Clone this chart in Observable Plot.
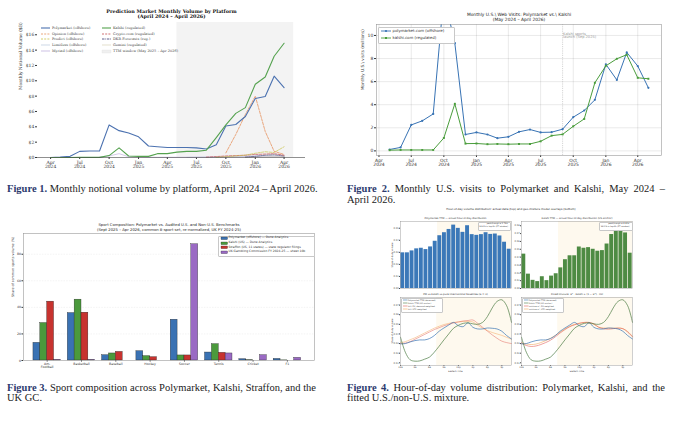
<!DOCTYPE html>
<html><head><meta charset="utf-8">
<script src="https://cdn.jsdelivr.net/npm/d3@7"></script>
<script src="https://cdn.jsdelivr.net/npm/@observablehq/plot@0.6"></script>
<style>
html,body{margin:0;padding:0;background:#fff;}
#page{position:relative;width:680px;height:421px;overflow:hidden;background:#fff;}
.cap{position:absolute;font-family:"Liberation Serif",serif;font-size:10.5px;line-height:11px;color:#1a1a1a;white-space:nowrap;}
.cap b{color:#2c3a6e;}
.just{white-space:normal;text-align:justify;text-align-last:justify;}
.box{position:absolute;background:#fff;border:0.4px solid #c8c8c8;border-radius:1px;}
</style></head>
<body><div id="page"></div>
<script>
// ---------------- Figure 1 data ----------------
const volMonths = ["2024-04","2024-05","2024-06","2024-07","2024-08","2024-09","2024-10","2024-11","2024-12","2025-01","2025-02","2025-03","2025-04","2025-05","2025-06","2025-07","2025-08","2025-09","2025-10","2025-11","2025-12","2026-01","2026-02","2026-03","2026-04"];
const polyVol      = [0.0,0.05,0.15,0.8,0.85,0.85,4.25,3.5,3.2,2.7,1.5,1.4,1.3,1.3,1.3,1.25,1.1,1.65,4.1,4.3,5.35,7.7,7.95,10.6,9.1];
const kalshiVol    = [0.0,0.0,0.0,0.02,0.02,0.02,0.25,1.25,0.2,0.15,0.15,0.5,0.5,0.7,0.8,0.8,0.95,2.6,4.25,5.75,6.5,9.55,10.5,13.2,14.9];
const opinionVol   = [null,null,null,null,null,null,null,null,null,null,null,null,null,null,null,null,null,null,0.6,3.0,5.6,8.0,3.4,0.8,0.4];
const predictVol   = [null,null,null,null,null,null,null,null,null,null,null,null,null,null,null,null,null,0.02,0.1,0.2,0.3,0.55,0.75,0.65,1.4];
const cryptoVol    = [null,null,null,null,null,null,null,null,null,null,null,null,null,null,null,null,0.05,0.12,0.2,0.25,0.3,0.4,0.45,0.5,0.3];
const dkrVol       = [null,null,null,null,null,null,null,null,null,null,null,null,null,null,null,null,null,null,null,null,0.05,0.15,0.3,0.35,0.2];
const limitlessVol = [null,null,null,null,null,null,null,null,null,null,null,null,null,null,0.02,0.03,0.05,0.08,0.12,0.15,0.18,0.2,0.22,0.2,0.15];
const myriadVol    = [null,null,null,null,null,0.05,0.2,0.5,0.1,0.05,0.03,0.03,0.03,0.03,0.03,0.04,0.04,0.05,0.06,0.07,0.08,0.1,0.1,0.1,0.08];
const geminiVol    = [null,null,null,null,null,null,null,null,null,null,null,null,null,null,null,null,null,null,null,null,0.02,0.05,0.08,0.1,0.12];
const volTicks = [0,2,4,6,8,10,12,14,16];
const quarterTicks = ["2024-04","2024-07","2024-10","2025-01","2025-04","2025-07","2025-10","2026-01","2026-04"];
const ttmWindow = {start: "2025-05", end: "2026-05"};

// ---------------- Figure 2 data ----------------
const visitMonths = ["2024-05","2024-06","2024-07","2024-08","2024-09","2024-10","2024-11","2024-12","2025-01","2025-02","2025-03","2025-04","2025-05","2025-06","2025-07","2025-08","2025-09","2025-10","2025-11","2025-12","2026-01","2026-02","2026-03","2026-04","2026-05"];
const polyVisits   = [0.12,0.3,2.25,2.6,3.2,13.5,9.33,1.42,1.6,1.42,1.1,1.22,1.65,1.85,1.6,1.62,1.88,2.92,3.5,4.42,7.5,6.15,8.53,7.35,5.46];
const kalshiVisits = [0.06,0.08,0.08,0.08,0.08,1.12,4.08,0.63,0.64,0.58,0.6,0.58,0.6,0.6,0.83,1.32,1.43,2.13,2.77,5.9,7.37,7.98,8.33,6.33,6.25];
const visitTicks = [0,2,4,6,8,10];
const sportsLaunch = {date: "2025-09", note: "Kalshi sports\nlaunch (Sep 2025)"};

// ---------------- Figure 3 data ----------------
const sports = ["Am.\nFootball","Basketball","Baseball","Hockey","Soccer","Tennis","Cricket","F1"];
const sources3 = ["Polymarket (offshore) — Dune Analytics","Kalshi (US) — Dune Analytics","Straffon (US, 11 states) — state regulator filings","UK Gambling Commission FY 2024-25 — sheet 10b"];
const pmShare       = [13.3,35.7,4.0,7.0,30.7,6.0,1.0,1.2];
const kalshiShare   = [28.2,45.8,5.3,3.3,3.8,12.3,0.2,0.1];
const straffonShare = [44.3,36.0,6.5,2.5,3.8,5.8,0,0];
const ukShare       = [0.5,0.5,0,0,87.5,5.3,4.0,2.0];
const shareTicks = [0,20,40,60,80];

// ---------------- Figure 4 data ----------------
const hours = [0,1,2,3,4,5,6,7,8,9,10,11,12,13,14,15,16,17,18,19,20,21,22,23];
const pmHourShare     = [0.0296,0.0296,0.0312,0.0329,0.0334,0.0323,0.0345,0.0392,0.0438,0.0463,0.0490,0.0526,0.0499,0.0466,0.0521,0.0447,0.0441,0.0447,0.0463,0.0449,0.0452,0.0436,0.0384,0.0326];
const kalshiHourShare = [0.0438,0.0183,0.0104,0.0088,0.0150,0.0100,0.0158,0.0188,0.0263,0.0367,0.0417,0.0417,0.0529,0.0513,0.0521,0.0500,0.0475,0.0483,0.0567,0.0688,0.0729,0.0733,0.0708,0.0450];
const pmSmooth     = [0.0297,0.0300,0.0317,0.0331,0.0338,0.0338,0.0352,0.0383,0.0428,0.0462,0.0493,0.0520,0.0486,0.0476,0.0517,0.0469,0.0452,0.0452,0.0462,0.0459,0.0452,0.0428,0.0383,0.0348];
const kalshiSmooth = [0.0366,0.0210,0.0131,0.0117,0.0120,0.0138,0.0159,0.0210,0.0272,0.0338,0.0400,0.0460,0.0490,0.0510,0.0515,0.0505,0.0500,0.0520,0.0580,0.0670,0.0738,0.0755,0.0693,0.0520];
const intlEU       = [0.0300,0.0305,0.0320,0.0345,0.0370,0.0395,0.0420,0.0445,0.0465,0.0485,0.0500,0.0515,0.0525,0.0535,0.0540,0.0545,0.0510,0.0470,0.0430,0.0390,0.0355,0.0325,0.0310,0.0300];
const intlUTC      = [0.0310,0.0320,0.0340,0.0360,0.0385,0.0410,0.0435,0.0460,0.0480,0.0498,0.0510,0.0520,0.0525,0.0530,0.0530,0.0525,0.0490,0.0460,0.0435,0.0415,0.0400,0.0385,0.0365,0.0345];
const mixEU        = [0.0305,0.0280,0.0270,0.0275,0.0290,0.0310,0.0335,0.0370,0.0410,0.0445,0.0475,0.0495,0.0510,0.0520,0.0520,0.0505,0.0470,0.0455,0.0450,0.0455,0.0460,0.0455,0.0420,0.0370];
const mixUTC       = [0.0310,0.0295,0.0290,0.0295,0.0310,0.0330,0.0355,0.0385,0.0420,0.0452,0.0480,0.0500,0.0512,0.0518,0.0515,0.0500,0.0470,0.0462,0.0460,0.0460,0.0462,0.0455,0.0425,0.0375];
const hourTicks = [0,3,6,9,12,15,18,21];
const hourLabels = ["12a","3a","6a","9a","12p","3p","6p","9p"];
const usWindowBars = [[8,24]];
const usWindowLines = [[7.5,23]];

// ---------------- helpers ----------------
const page = document.getElementById("page");
const parseM = d3.utcParse("%Y-%m");
const fmtMY = d => d3.utcFormat("%b")(d) + "\n" + d3.utcFormat("%Y")(d);
function put(el, x, y){ el.style.position="absolute"; el.style.left=x+"px"; el.style.top=y+"px"; el.style.overflow="visible"; page.appendChild(el); return el; }
function txt(s, x, y, o = {}){
  const d = document.createElement("div");
  d.textContent = s;
  const a = o.anchor || "start";
  const tx = a === "start" ? "0" : a === "middle" ? "-50%" : "-100%";
  Object.assign(d.style, {position:"absolute", left:x+"px", top:y+"px", fontFamily:o.family||"DejaVu Sans",
    fontSize:(o.size||4)+"px", fontWeight:o.weight||"normal", color:o.color||"#333", whiteSpace:"pre",
    lineHeight:String(o.lh||1.2), textAlign:o.align||"left",
    transform:`translate(${tx},-50%)` + (o.rotate ? ` rotate(${o.rotate}deg)` : ""), transformOrigin:"center"});
  page.appendChild(d); return d;
}
function box(x, y, w, h){ const d=document.createElement("div"); d.className="box"; Object.assign(d.style,{left:x+"px",top:y+"px",width:w+"px",height:h+"px"}); page.appendChild(d); }
const NS = "http://www.w3.org/2000/svg";
function lineSwatch(x, y, w, color, dash, sw, marker){
  const s = document.createElementNS(NS,"svg");
  s.setAttribute("width", w); s.setAttribute("height", 4);
  s.innerHTML = `<line x1="0" y1="2" x2="${w}" y2="2" stroke="${color}" stroke-width="${sw}" ${dash?`stroke-dasharray="${dash}"`:""}/>` +
    (marker==="circle" ? `<circle cx="${w/2}" cy="2" r="1.1" fill="${color}"/>` : marker==="square" ? `<rect x="${w/2-1}" y="1" width="2" height="2" fill="${color}"/>` : "");
  put(s, x, y-2);
}
function patch(x, y, w, h, fill, stroke, sw){
  const s = document.createElementNS(NS,"svg");
  s.setAttribute("width", w); s.setAttribute("height", h);
  s.innerHTML = `<rect x="0" y="0" width="${w}" height="${h}" fill="${fill}" stroke="${stroke}" stroke-width="${sw}"/>`;
  put(s, x, y-h/2);
}

// ================= Figure 1 =================
const defs1 = [
  {name:"Limitless (offshore)", values:limitlessVol, color:"#b7c7db", w:0.6},
  {name:"Myriad (offshore)", values:myriadVol, color:"#b8a6d8", w:0.6},
  {name:"Gemini (regulated)", values:geminiVol, color:"#d8d2b8", w:0.6},
  {name:"DKR Forecasts (reg.)", values:dkrVol, color:"#35356e", w:0.6, dash:"3,1,1,1"},
  {name:"Crypto.com (regulated)", values:cryptoVol, color:"#c44e52", w:0.7, dash:"2.5,1.3"},
  {name:"Predict (offshore)", values:predictVol, color:"#c9c24a", w:0.7, dash:"2.5,1.3"},
  {name:"Opinion (offshore)", values:opinionVol, color:"#e6925e", w:0.8, dash:"2.5,1.3"},
  {name:"Polymarket (offshore)", values:polyVol, color:"#4c72b0", w:1.1},
  {name:"Kalshi (regulated)", values:kalshiVol, color:"#55a24f", w:1.1}
];
const lineMarks1 = defs1.map(d => Plot.line(
  volMonths.map((m,i) => ({date: parseM(m), v: d.values[i]})).filter(r => r.v != null),
  {x:"date", y:"v", stroke:d.color, strokeWidth:d.w, strokeDasharray:d.dash}));
const fig1 = Plot.plot({
  width:315, height:178, marginLeft:37, marginRight:10, marginTop:22, marginBottom:21,
  style:{fontFamily:"DejaVu Serif, serif", fontSize:"4.5px", color:"#333", background:"transparent", overflow:"visible"},
  x:{type:"utc", domain:[new Date("2024-02-20"), new Date("2026-06-07")], ticks:quarterTicks.map(parseM), tickFormat:fmtMY, tickSize:2, tickPadding:1.2, label:null},
  y:{domain:[0,17.6], ticks:volTicks, tickFormat:d => "$"+d, tickSize:2, tickPadding:1.2, label:null},
  marks:[
    Plot.rect([ttmWindow], {x1:d => parseM(d.start), x2:d => parseM(d.end), fill:"#f3f3f3"}),
    ...lineMarks1,
    Plot.ruleY([0], {stroke:"#444", strokeWidth:0.6}),
    Plot.text(["Monthly Notional Volume ($B)"], {frameAnchor:"left", rotate:-90, dx:-17, fontSize:4.4}),
    Plot.text(["Prediction Market Monthly Volume by Platform\n(April 2024 – April 2026)"], {frameAnchor:"top", lineAnchor:"top", dy:-13, fontWeight:"bold", fontSize:4.9, fill:"#111"})
  ]
});
put(fig1, 0, 0);
// legend fig 1
const leg1 = [
  ["Polymarket (offshore)","#4c72b0",null,1.1, 0,0],["Opinion (offshore)","#e6925e","2,1.2",0.8,0,1],["Predict (offshore)","#c9c24a","2,1.2",0.8,0,2],
  ["Limitless (offshore)","#b7c7db",null,0.7,0,3],["Myriad (offshore)","#b8a6d8",null,0.7,0,4],
  ["Kalshi (regulated)","#55a24f",null,1.1,1,0],["Crypto.com (regulated)","#c44e52","2,1.2",0.8,1,1],["DKR Forecasts (reg.)","#35356e","2.5,0.8,0.8,0.8",0.8,1,2],
  ["Gemini (regulated)","#d8d2b8",null,0.7,1,3]
];
const rows1 = [28, 33.7, 39.3, 45.2, 51];
leg1.forEach(([t,c,dash,w,col,row]) => {
  const x0 = col ? 102 : 41;
  lineSwatch(x0, rows1[row], 9, c, dash, w);
  txt(t, x0+11, rows1[row], {family:"DejaVu Serif", size:3.5, color:"#444"});
});
patch(102, rows1[4], 9, 3, "#f0f0f0", "#dcdcdc", 0.3);
txt("TTM window (May 2025 – Apr 2026)", 113, rows1[4], {family:"DejaVu Serif", size:3.5, color:"#444"});

// ================= Figure 2 =================
const polyRows = visitMonths.map((m,i) => ({date:parseM(m), v:polyVisits[i]}));
const kalRows = visitMonths.map((m,i) => ({date:parseM(m), v:kalshiVisits[i]}));
const blue2 = "#3873b4", green2 = "#4a9d3c";
const fig2 = Plot.plot({
  width:340, height:178, marginLeft:36, marginRight:19, marginTop:24, marginBottom:23,
  style:{fontFamily:"DejaVu Sans, sans-serif", fontSize:"4.5px", color:"#333", background:"transparent", overflow:"visible"},
  x:{type:"utc", domain:[new Date("2024-03-25"), new Date("2026-06-07")], ticks:quarterTicks.map(parseM), tickFormat:fmtMY, tickSize:2, tickPadding:1.2, label:null, grid:true},
  y:{domain:[-0.4,10.95], ticks:visitTicks, tickSize:2, tickPadding:1.2, label:null, grid:true},
  marks:[
    Plot.ruleX([sportsLaunch], {x:d => parseM(d.date), stroke:"#aaa", strokeWidth:0.5, strokeDasharray:"1.2,1"}),
    Plot.text([sportsLaunch], {x:d => parseM(d.date), text:"note", frameAnchor:"top", lineAnchor:"top", dy:7.5, dx:0.5, textAnchor:"start", fill:"#9a9a9a", fontSize:3.6}),
    Plot.line(polyRows, {x:"date", y:"v", stroke:blue2, strokeWidth:1, clip:true}),
    Plot.dot(polyRows, {x:"date", y:"v", fill:blue2, r:1.1, clip:true}),
    Plot.line(kalRows, {x:"date", y:"v", stroke:green2, strokeWidth:1, clip:true}),
    Plot.dot(kalRows, {x:"date", y:"v", fill:green2, symbol:"square", r:1.1, clip:true}),
    Plot.frame({stroke:"#999", strokeWidth:0.6}),
    Plot.text(["Monthly U.S.\\ visits (millions)"], {frameAnchor:"left", rotate:-90, dx:-14, fontSize:4.2}),
    Plot.text(["Monthly U.S.\\ Web Visits: Polymarket vs.\\ Kalshi\n(May 2024 – April 2026)"], {frameAnchor:"top", lineAnchor:"top", dy:-13, lineHeight:1.3, fontSize:4.4, fill:"#222"})
  ]
});
put(fig2, 340, 0);
box(377.5, 26.5, 75, 15);
lineSwatch(380.5, 30.8, 10, blue2, null, 0.9, "circle");
txt("polymarket.com (offshore)", 392.5, 30.8, {size:3.9});
lineSwatch(380.5, 37.6, 10, green2, null, 0.9, "square");
txt("kalshi.com (regulated)", 392.5, 37.6, {size:3.9});

// ================= Figure 3 =================
const colors3 = ["#3a72b3","#4b9a3c","#c7332f","#9a6ac4"];
const shareSeries = [pmShare, kalshiShare, straffonShare, ukShare];
const rows3 = [];
sports.forEach((s,i) => shareSeries.forEach((arr,j) => rows3.push({i, j, sport:s, source:sources3[j], v:arr[i]})));
const fig3 = Plot.plot({
  width:320, height:165, marginLeft:23, marginRight:6, marginTop:18, marginBottom:20,
  style:{fontFamily:"DejaVu Sans, sans-serif", fontSize:"3.2px", color:"#333", background:"transparent", overflow:"visible"},
  x:{domain:[-0.69,7.79], ticks:sports.map((s,i) => i), tickFormat:i => sports[i], tickSize:1.5, tickPadding:1, label:null},
  y:{domain:[0,95.6], ticks:shareTicks, tickSize:1.5, tickPadding:1, label:null},
  color:{domain:sources3, range:colors3},
  marks:[
    Plot.gridY(shareTicks.slice(1), {stroke:"#bbb", strokeOpacity:0.5, strokeWidth:0.35, strokeDasharray:"1.5,1.2"}),
    Plot.rectY(rows3, {x1:d => d.i - 0.4 + 0.2*d.j, x2:d => d.i - 0.2 + 0.2*d.j, y:"v", fill:"source", stroke:"#222", strokeWidth:0.35}),
    Plot.frame({stroke:"#999", strokeWidth:0.6}),
    Plot.text(["Share of common sports volume (%)"], {frameAnchor:"left", rotate:-90, dx:-11, fontSize:3.3}),
    Plot.text(["Sport Composition: Polymarket vs. Audited U.S. and Non-U.S. Benchmarks\n(Sept 2025 – Apr 2026, common 8-sport set, re-normalized, UK FY 2024-25)"], {frameAnchor:"top", lineAnchor:"top", dy:-10.5, lineHeight:1.25, fontSize:3.8, fill:"#222"})
  ]
});
put(fig3, 0, 215);
box(218, 235.5, 95, 19.5);
[238.3, 243, 247.7, 252.3].forEach((y,j) => {
  patch(220.5, y, 6.5, 2.6, colors3[j], "#222", 0.3);
  txt(sources3[j], 228.5, y, {size:3.0, color:"#333"});
});

// ================= Figure 4 =================
const bluebar = "#3b78b8", greenbar = "#4e8b43";
const shade4 = "#fef9ee";
const style4 = {fontFamily:"DejaVu Sans, sans-serif", fontSize:"2.3px", color:"#444", background:"transparent", overflow:"visible"};
function barPanel(values, color, ymax, ticks){
  return Plot.plot({
    width:135, height:78, marginLeft:20, marginRight:4, marginTop:7, marginBottom:4, style:style4,
    x:{domain:[0,24], axis:null},
    y:{domain:[0,ymax], ticks, tickFormat:".2f", tickSize:1, tickPadding:0.8, label:null},
    marks:[
      Plot.rect(usWindowBars, {x1:d => d[0], x2:d => d[1], fill:shade4}),
      Plot.rectY(hours.map((h,i) => ({h, v:values[i]})), {x:"h", interval:1, y:"v", fill:color, insetLeft:0.35, insetRight:0.35}),
      Plot.frame({stroke:"#888", strokeWidth:0.4})
    ]
  });
}
function linePanel(series){
  return Plot.plot({
    width:135, height:84, marginLeft:20, marginRight:4, marginTop:7, marginBottom:9, style:style4,
    x:{domain:[0,23], ticks:hourTicks, tickFormat:h => hourLabels[hourTicks.indexOf(h)], tickSize:0.8, tickPadding:0.5, label:null},
    y:{domain:[0.0072,0.0779], ticks:[0.01,0.02,0.03,0.04,0.05,0.06,0.07], tickFormat:".2f", tickSize:1, tickPadding:0.8, label:null},
    marks:[
      Plot.rect(usWindowLines, {x1:d => d[0], x2:d => d[1], fill:shade4}),
      ...series.map(s => Plot.line(hours.map((h,i) => ({h, v:s.values[i]})), {x:"h", y:"v", stroke:s.color, strokeWidth:s.w, curve:"catmull-rom"})),
      Plot.frame({stroke:"#888", strokeWidth:0.4})
    ]
  });
}
const pmC = "#3b75b4", kC = "#4d7c45", euC = "#e0625a", utcC = "#f2a75e";
const tl = barPanel(pmHourShare, bluebar, 0.0556, [0,0.01,0.02,0.03,0.04,0.05]);
put(tl, 380, 214);
const tr = barPanel(kalshiHourShare, greenbar, 0.0854, [0,0.01,0.02,0.03,0.04,0.05,0.06,0.07,0.08]);
put(tr, 501, 214);
const bl = linePanel([
  {values:intlUTC, color:utcC, w:0.5},{values:intlEU, color:euC, w:0.5},
  {values:pmSmooth, color:pmC, w:0.7},{values:kalshiSmooth, color:kC, w:0.7}]);
put(bl, 380, 290);
const br = linePanel([
  {values:mixUTC, color:utcC, w:0.6},{values:mixEU, color:euC, w:0.6},
  {values:pmSmooth, color:pmC, w:0.7},{values:kalshiSmooth, color:kC, w:0.7}]);
put(br, 501, 290);

txt("Hour-of-day volume distribution: actual data (top) and geo-mixture model overlays (bottom)", 511, 210, {anchor:"middle", size:2.8, color:"#222"});
txt("Polymarket TTM — actual hour-of-day distribution", 455.5, 217.6, {anchor:"middle", size:2.5});
txt("Kalshi TTM — actual hour-of-day distribution (US anchor)", 577, 217.6, {anchor:"middle", size:2.5});
txt("PM vs Kalshi vs pure international baselines (α = 0)", 455.5, 294, {anchor:"middle", size:2.5});
txt("Fitted mixture: α* · Kalshi + (1 − α*) · Intl", 577, 294, {anchor:"middle", size:2.5});
txt("Share of daily volume", 392.5, 254.5, {anchor:"middle", size:2.3, rotate:-90});
txt("Share of daily volume", 392.5, 331, {anchor:"middle", size:2.3, rotate:-90});
txt("Eastern Time", 455.5, 371.8, {anchor:"middle", size:2.2});
txt("Eastern Time", 577, 371.8, {anchor:"middle", size:2.2});
box(478, 222, 31, 6.8);
txt("peak/trough = 1.78×\n26.4% in top 6h (ET window)", 508, 225.4, {anchor:"end", size:2.0, align:"right", lh:1.3});
box(599, 222, 31.5, 6.8);
txt("peak/trough = 8.81×\n34.0% in top 6h (ET window)", 629.5, 225.4, {anchor:"end", size:2.0, align:"right", lh:1.3});
const legBL = [["Polymarket TTM (observed)",pmC],["Kalshi TTM (US anchor)",kC],["Intl: EU, demand-weighted",euC],["Intl: UTC-weighted",utcC]];
const legBR = [["Polymarket TTM (observed)",pmC],["Kalshi TTM (US anchor)",kC],["mixture α*, EU-weighted",euC],["mixture α*, UTC-weighted",utcC]];
[[legBL,401],[legBR,522]].forEach(([items,x0]) => {
  box(x0, 298, 40, 12.5);
  items.forEach(([t,c],k) => {
    const y = 300.2 + k*2.8;
    lineSwatch(x0+1.5, y, 4.5, c, null, 0.6);
    txt(t, x0+7, y, {size:2.0, color:"#444"});
  });
});

// ================= Captions =================
function caption(x, y, w, bold, rest, justify){
  const d = document.createElement("div");
  d.className = "cap" + (justify ? " just" : "");
  d.style.left = x+"px"; d.style.top = y+"px";
  if (w) d.style.width = w+"px";
  const b = document.createElement("b"); b.textContent = bold;
  d.appendChild(b); d.appendChild(document.createTextNode(rest));
  page.appendChild(d);
}
caption(7, 182.5, null, "Figure 1.", " Monthly notional volume by platform, April 2024 – April 2026.", false);
caption(347, 182.8, 318, "Figure 2.", " Monthly U.S. visits to Polymarket and Kalshi, May 2024 –", true);
caption(347, 193.8, null, "", "April 2026.", false);
caption(7, 381.8, 309, "Figure 3.", " Sport composition across Polymarket, Kalshi, Straffon, and the", true);
caption(7, 391.8, null, "", "UK GC.", false);
caption(347, 381.8, 318, "Figure 4.", " Hour-of-day volume distribution: Polymarket, Kalshi, and the", true);
caption(347, 391.8, null, "", "fitted U.S./non-U.S. mixture.", false);
</script>
</body></html>
